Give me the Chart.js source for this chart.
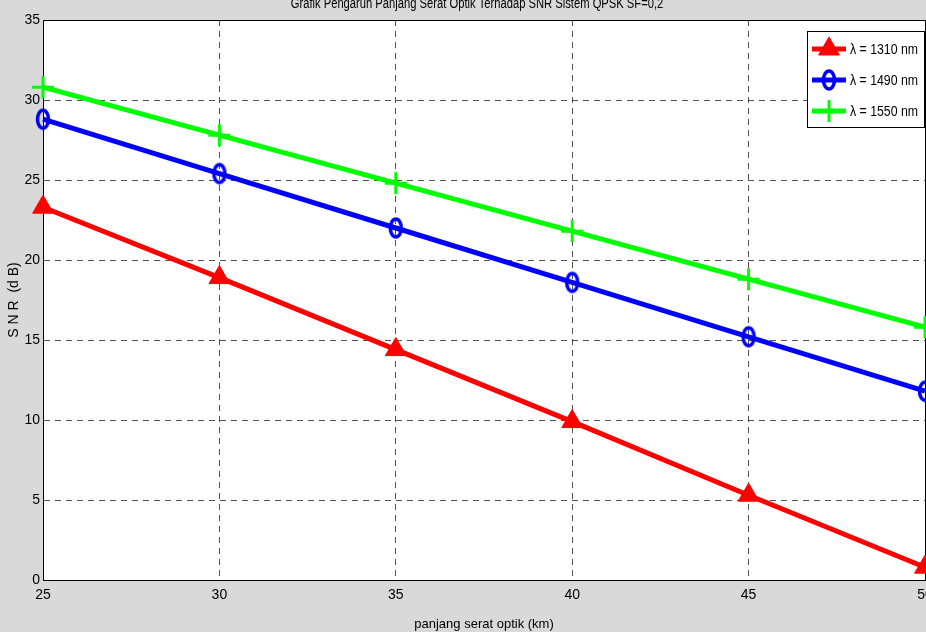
<!DOCTYPE html>
<html>
<head>
<meta charset="utf-8">
<script src="https://cdn.jsdelivr.net/npm/chart.js@4.4.1/dist/chart.umd.min.js"></script>
<style>
html, body { margin: 0; padding: 0; background: #d9d9d9; }
#wrap { width: 926px; height: 632px; overflow: hidden; position: relative; }
#chart { position: absolute; left: 0; top: 0; }
</style>
</head>
<body>
<div id="wrap"><canvas id="chart" width="950" height="632"></canvas></div>
<script>
// data
const lengthsKm = [25, 30, 35, 40, 45, 50];
const snr1310 = [23.3, 18.9, 14.4, 9.9, 5.3, 0.8];
const snr1490 = [28.8, 25.4, 22.0, 18.6, 15.2, 11.8];
const snr1550 = [30.8, 27.8, 24.8, 21.8, 18.8, 15.8];
const seriesLabels = ['λ = 1310 nm', 'λ = 1490 nm', 'λ = 1550 nm'];
const chartTitle = 'Grafik Pengaruh Panjang Serat Optik Terhadap SNR Sistem QPSK SF=0,2';
const xTitle = 'panjang serat optik (km)';
const yTitle = 'S N R  (d B)';

const FONT = "'Liberation Sans Narrow', 'Liberation Sans', Arial, sans-serif";
const ctx = document.getElementById('chart').getContext('2d');

function toPoints(ys) {
    return lengthsKm.map((x, i) => ({ x: x, y: ys[i] }));
}

// matlab 'o' marker comes out as a tall ellipse in the reference
function ellipseMarker() {
    const m = document.createElement('canvas');
    m.width = 18;
    m.height = 24;
    const c = m.getContext('2d');
    c.strokeStyle = '#0000ff';
    c.lineWidth = 3.5;
    c.beginPath();
    c.ellipse(9, 12, 5.5, 9, 0, 0, Math.PI * 2);
    c.stroke();
    return m;
}
const blueMarker = ellipseMarker();

// white plot area, box, title and legend in matlab style
const matlabStyle = {
    id: 'matlabStyle',
    beforeDraw(chart) {
        const a = chart.chartArea;
        const c = chart.ctx;
        c.save();
        c.fillStyle = '#ffffff';
        c.fillRect(a.left, a.top, a.right - a.left, a.bottom - a.top);
        c.restore();
    },
    beforeDatasetsDraw(chart) {
        const a = chart.chartArea;
        const c = chart.ctx;
        c.save();
        c.strokeStyle = '#000000';
        c.lineWidth = 1;
        c.strokeRect(a.left + 0.5, a.top + 0.5, a.right - a.left, a.bottom - a.top);
        c.restore();
    },
    afterDraw(chart) {
        const a = chart.chartArea;
        const c = chart.ctx;
        c.save();
        // title (top half is cut off in the reference), narrow like the original
        c.fillStyle = '#000000';
        c.font = '14px ' + FONT;
        c.textAlign = 'center';
        c.textBaseline = 'alphabetic';
        c.save();
        c.translate((a.left + a.right) / 2 - 7, 8);
        c.scale(0.8, 1);
        c.fillText(chartTitle, 0, 0);
        c.restore();

        // legend box
        const bx = 807, by = 31, bw = 117, bh = 96;
        c.fillStyle = '#ffffff';
        c.fillRect(bx, by, bw, bh);
        c.strokeStyle = '#000000';
        c.lineWidth = 1;
        c.strokeRect(bx + 0.5, by + 0.5, bw, bh);
        chart.data.datasets.forEach((ds, i) => {
            const y = by + 18 + i * 31;
            c.strokeStyle = ds.borderColor;
            c.lineWidth = ds.borderWidth;
            c.beginPath();
            c.moveTo(bx + 5, y);
            c.lineTo(bx + 39, y);
            c.stroke();
            c.fillStyle = ds.pointBackgroundColor;
            c.strokeStyle = ds.pointBorderColor;
            c.lineWidth = ds.pointBorderWidth;
            Chart.helpers.drawPoint(c, {
                pointStyle: ds.pointStyle,
                radius: ds.pointRadius,
                borderWidth: ds.pointBorderWidth,
                rotation: 0
            }, bx + 22, y);
            c.fillStyle = '#000000';
            c.font = '15px ' + FONT;
            c.textAlign = 'left';
            c.textBaseline = 'middle';
            c.save();
            c.translate(bx + 43, y + 1);
            c.scale(0.82, 1);
            c.fillText(ds.label, 0, 0);
            c.restore();
        });
        c.restore();
    }
};

const gridStyle = {
    color: 'rgba(40, 40, 40, 0.8)',
    lineWidth: 1,
    drawTicks: false
};

new Chart(ctx, {
    type: 'line',
    data: {
        datasets: [{
            label: seriesLabels[0],
            data: toPoints(snr1310),
            borderColor: '#ff0000',
            backgroundColor: '#ff0000',
            pointStyle: 'triangle',
            pointRadius: 12,
            pointBackgroundColor: '#ff0000',
            pointBorderColor: '#ff0000',
            pointBorderWidth: 1,
            borderWidth: 5,
            clip: false
        }, {
            label: seriesLabels[1],
            data: toPoints(snr1490),
            borderColor: '#0000ff',
            backgroundColor: '#0000ff',
            pointStyle: blueMarker,
            pointRadius: 9,
            pointBackgroundColor: 'rgba(0, 0, 0, 0)',
            pointBorderColor: '#0000ff',
            pointBorderWidth: 3,
            borderWidth: 5,
            clip: false
        }, {
            label: seriesLabels[2],
            data: toPoints(snr1550),
            borderColor: '#00ff00',
            backgroundColor: '#00ff00',
            pointStyle: 'cross',
            pointRadius: 11,
            pointBackgroundColor: '#00ff00',
            pointBorderColor: '#00ff00',
            pointBorderWidth: 3,
            borderWidth: 5,
            clip: false
        }]
    },
    options: {
        responsive: false,
        animation: false,
        layout: {
            padding: { top: 20, right: 25, left: 0, bottom: 0 }
        },
        plugins: {
            legend: { display: false },
            tooltip: { enabled: false }
        },
        elements: {
            line: { tension: 0 }
        },
        scales: {
            x: {
                type: 'linear',
                min: 25,
                max: 50,
                ticks: {
                    stepSize: 5,
                    color: '#000000',
                    padding: 7,
                    maxRotation: 0,
                    font: { family: FONT, size: 14 }
                },
                grid: Object.assign({}, gridStyle),
                border: { display: true, color: '#000000', width: 1, dash: [6, 5] },
                title: {
                    display: true,
                    text: xTitle,
                    color: '#000000',
                    padding: { top: 0, bottom: 0 },
                    font: { family: FONT, size: 13 }
                },
                afterFit(scale) { scale.height = 52; }
            },
            y: {
                min: 0,
                max: 35,
                ticks: {
                    stepSize: 5,
                    color: '#000000',
                    padding: 3,
                    font: { family: FONT, size: 14 }
                },
                grid: Object.assign({}, gridStyle),
                border: { display: true, color: '#000000', width: 1, dash: [6, 5] },
                title: {
                    display: true,
                    text: yTitle,
                    color: '#000000',
                    padding: { top: 6, bottom: 0 },
                    font: { family: FONT, size: 14 }
                },
                afterFit(scale) { scale.width = 43; }
            }
        }
    },
    plugins: [matlabStyle]
});
</script>
</body>
</html>
